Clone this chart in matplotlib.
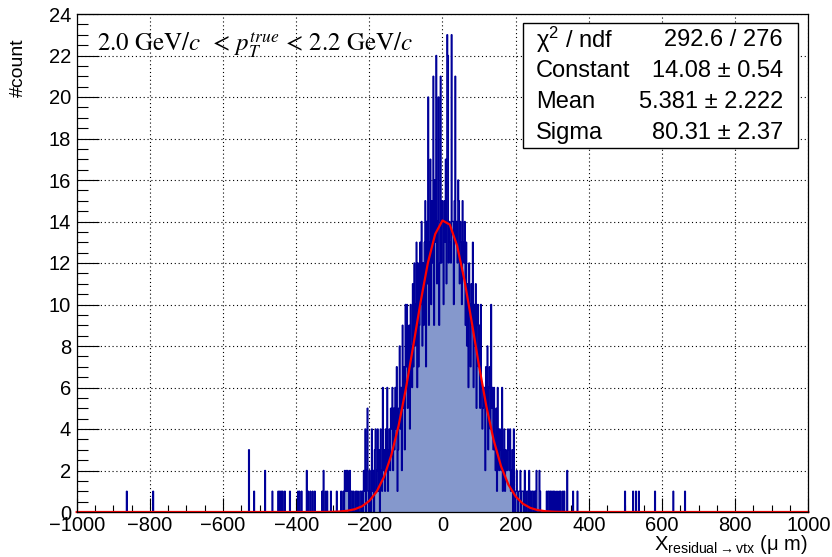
import matplotlib
matplotlib.use("Agg")
import matplotlib.pyplot as plt
from matplotlib.patches import Rectangle
from matplotlib.ticker import MultipleLocator
import numpy as np

plt.rcParams['font.family'] = ['Liberation Sans', 'DejaVu Sans']
plt.rcParams['mathtext.fontset'] = 'custom'
plt.rcParams['mathtext.rm'] = 'Liberation Sans'
plt.rcParams['mathtext.it'] = 'Liberation Sans:italic'

# histogram: 1000 bins of 2 um from -1000 to 1000
x_min, x_max, n_bins = -1000, 1000, 1000

# counts of the core, bins from -300 to +300 um (20 bins per row = 40 um)
core_counts = [
    0, 0, 0, 0, 0, 1, 0, 0, 0, 0, 0, 1, 0, 0, 1, 0, 2, 1, 2, 1,
    2, 1, 0, 2, 0, 1, 1, 0, 1, 0, 0, 1, 1, 0, 1, 0, 0, 1, 1, 0,
    1, 0, 2, 1, 4, 0, 2, 5, 1, 0, 2, 1, 0, 4, 1, 2, 0, 3, 4, 1,
    2, 4, 1, 3, 0, 4, 2, 1, 6, 2, 3, 1, 4, 2, 6, 1, 3, 4, 2, 5,
    4, 6, 2, 5, 3, 6, 4, 7, 1, 3, 5, 8, 4, 6, 2, 9, 5, 7, 3, 10,
    7, 10, 5, 8, 9, 4, 10, 8, 6, 11, 7, 12, 8, 10, 13, 6, 12, 7, 9, 13,
    10, 14, 8, 12, 9, 13, 15, 7, 14, 11, 20, 9, 13, 17, 10, 15, 12, 21, 9, 16,
    13, 22, 11, 14, 20, 9, 12, 21, 12, 15, 14, 10, 15, 13, 17, 11, 23, 22, 12, 14,
    13, 12, 23, 14, 14, 10, 15, 21, 13, 14, 12, 16, 15, 11, 14, 13, 10, 15, 13, 12,
    14, 9, 13, 8, 11, 6, 12, 10, 7, 11, 9, 13, 6, 10, 8, 11, 5, 9, 10, 7,
    9, 5, 10, 6, 4, 5, 6, 6, 2, 7, 5, 8, 3, 6, 7, 4, 10, 5, 6, 3,
    6, 3, 2, 5, 1, 6, 4, 2, 4, 3, 2, 6, 1, 3, 4, 1, 3, 2, 2, 4,
    3, 2, 4, 1, 2, 3, 0, 4, 1, 0, 1, 2, 1, 0, 1, 1, 2, 0, 1, 1,
    1, 0, 2, 1, 0, 1, 1, 0, 2, 0, 1, 0, 1, 1, 0, 1, 0, 1, 2, 0,
    0, 0, 2, 1, 0, 0, 0, 0, 0, 0, 0, 0, 1, 0, 1, 1, 0, 1, 0, 1,
]
core_start = -300

# isolated entries in the tails (position in um, count)
tail_x = [-863, -792, -529, -516, -486, -465, -450, -446, -442, -437, -432,
          -417, -396, -391, -386, -372, -367, -361, -355, -350, -330, -325,
          -320, -315, -305,
          303, 307, 312, 318, 323, 328, 333, 341, 357, 368, 499, 521, 529,
          537, 581, 630, 663]
tail_n = [1, 1, 3, 1, 2, 1, 1, 1, 1, 1, 1,
          1, 1, 1, 1, 2, 1, 1, 1, 1, 1, 2,
          1, 1, 1,
          1, 1, 1, 1, 1, 1, 1, 2, 1, 1, 1, 1, 1,
          1, 1, 1, 1]

# gaussian fit result
fit_const, fit_mean, fit_sigma = 14.08, 5.381, 80.31
stats_names = [r"χ$^{2}$ / ndf", "Constant", "Mean", "Sigma"]
stats_values = ["292.6 / 276", "14.08 ± 0.54", "5.381 ± 2.222", "80.31 ± 2.37"]

bw = (x_max - x_min) / n_bins
edges = np.linspace(x_min, x_max, n_bins + 1)
counts = np.zeros(n_bins)
i0 = int((core_start - x_min) / bw)
counts[i0:i0 + len(core_counts)] = core_counts
for x, n in zip(tail_x, tail_n):
    counts[int((x - x_min) // bw)] += n

W, H = 832, 557
fig = plt.figure(figsize=(W / 100, H / 100), dpi=100)
ax = fig.add_axes([76.7 / W, 1 - 512 / H, (808.3 - 76.7) / W, (512 - 14) / H])

ax.grid(True, color='black', linestyle=(0, (1, 2.5)), linewidth=0.8, zorder=0)
ax.set_axisbelow(True)

ax.stairs(counts, edges, fill=True, color='#8598CC', linewidth=0, zorder=2)
ax.stairs(counts, edges, color='#000099', linewidth=1.0, zorder=3)

xf = np.linspace(x_min, x_max, 101)
ax.plot(xf, fit_const * np.exp(-0.5 * ((xf - fit_mean) / fit_sigma) ** 2),
        color='red', linewidth=1.6, zorder=4, clip_on=False)

ax.set_xlim(x_min, x_max)
ax.set_ylim(0, 24)
ax.xaxis.set_major_locator(MultipleLocator(200))
ax.xaxis.set_minor_locator(MultipleLocator(50))
ax.yaxis.set_major_locator(MultipleLocator(2))
ax.yaxis.set_minor_locator(MultipleLocator(0.5))
ax.tick_params(axis='x', which='major', direction='in', length=10, width=0.8,
               labelsize=14.5, pad=3)
ax.tick_params(axis='x', which='minor', direction='in', length=5, width=0.8)
ax.tick_params(axis='y', which='major', direction='in', length=16, width=0.8,
               labelsize=14.5, pad=4)
ax.tick_params(axis='y', which='minor', direction='in', length=8, width=0.8)
for s in ax.spines.values():
    s.set_linewidth(0.9)
    s.set_zorder(5)

fig.text(18 / W, 1 - 38 / H, "#count", rotation=90, ha='center', va='top',
         fontsize=14)
fig.text(808 / W, 1 - 545 / H,
         r"X$_{\mathrm{residual}\rightarrow\mathrm{vtx}}$ (μ m)",
         ha='right', va='center', fontsize=14.5, math_fontfamily='custom')

fig.text(97 / W, 1 - 45 / H,
         r"2.0 GeV/$c$  < $p_{T}^{true}$ < 2.2 GeV/$c$",
         ha='left', va='center', fontsize=18, family='STIXGeneral',
         math_fontfamily='stix')

box = Rectangle((523 / W, 1 - 148 / H), (798 - 523) / W, (148 - 23) / H,
                transform=fig.transFigure, facecolor='white', edgecolor='black',
                linewidth=1.0, zorder=10)
fig.add_artist(box)
for k, (name, val) in enumerate(zip(stats_names, stats_values)):
    yy = 1 - (40 + 31 * k) / H
    fig.text(536 / W, yy, name, ha='left', va='center', fontsize=17, zorder=11,
             math_fontfamily='custom')
    fig.text(783 / W, yy, val, ha='right', va='center', fontsize=17, zorder=11)

fig.savefig("out.png", dpi=100)
